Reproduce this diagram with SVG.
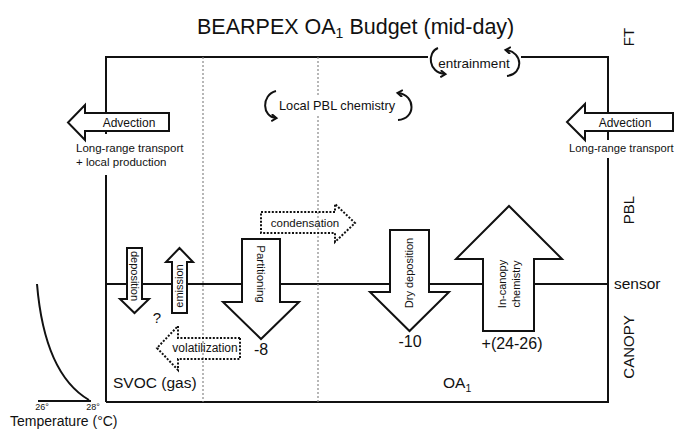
<svg xmlns="http://www.w3.org/2000/svg" width="675" height="430" viewBox="0 0 675 430">
<style>
text{font-family:"Liberation Sans",Arial,sans-serif;fill:#111}
.ln{stroke:#111;stroke-width:2;fill:none}
.dot{stroke:#888;stroke-width:1.2;stroke-dasharray:2 2;fill:none}
.arr{stroke:#111;stroke-width:2;fill:#fff;stroke-linejoin:miter}
.darr{stroke:#111;stroke-width:2;fill:none;stroke-dasharray:2 1.6}
.circ{stroke:#111;stroke-width:2;fill:none}
.m{text-anchor:middle}
</style>
<defs>
<marker id="head" markerWidth="8" markerHeight="8" refX="5" refY="4" orient="auto" markerUnits="userSpaceOnUse">
<path d="M0.5,0.5 L5.5,4 L0.5,7.5" fill="none" stroke="#111" stroke-width="2"/>
</marker>
</defs>
<rect width="675" height="430" fill="#fff"/>
<text x="197" y="34" font-size="21.5">BEARPEX OA<tspan font-size="14" dy="4">1</tspan><tspan dy="-4"> Budget (mid-day)</tspan></text>
<g id="frame">
<path class="ln" d="M106,402 V175 M106,134 V57 H428 M521,57 H608 V140 M608,158 V402 H106"/>
<path class="ln" d="M106,284 H608"/>
<path class="dot" d="M203,57 V402 M318,57 V95 M318,116 V402"/>
</g>
<g id="labels">
<text transform="translate(634,37) rotate(-90)" font-size="15" class="m">FT</text>
<text transform="translate(634,210) rotate(-90)" font-size="15" class="m">PBL</text>
<text transform="translate(634,347) rotate(-90)" font-size="15" class="m">CANOPY</text>
<text x="614" y="289" font-size="15.5">sensor</text>
</g>
<g id="entrainment">
<path class="circ" d="M438,48 C427,52 428,73 445,74" marker-end="url(#head)"/>
<path class="circ" d="M507,76 C524,74 523,52 506,50" marker-end="url(#head)"/>
<text x="474" y="67.5" font-size="13.5" class="m">entrainment</text>
</g>
<g id="local-pbl-chemistry">
<path class="circ" d="M276,91 C261,95 262,117 276,118" marker-end="url(#head)"/>
<path class="circ" d="M398,120 C416,119 416,95 398,93" marker-end="url(#head)"/>
<text x="337" y="109.5" font-size="12.8" class="m">Local PBL chemistry</text>
</g>
<g id="advection-left">
<polygon class="arr" points="169,113 85,113 85,105 68,122.5 85,140 85,131 169,131"/>
<text x="129" y="126.5" font-size="12" class="m">Advection</text>
<text x="76" y="152" font-size="11.5">Long-range transport</text>
<text x="76" y="166" font-size="11.5">+ local production</text>
</g>
<g id="advection-right">
<polygon class="arr" points="673,113 585,113 585,104 567,122 585,140 585,131 673,131"/>
<text x="625" y="126.5" font-size="12" class="m">Advection</text>
<text x="569" y="152" font-size="11.2">Long-range transport</text>
</g>
<g id="deposition">
<polygon class="arr" points="127,248 142,248 142,299 149,299 134.5,313 120,299 127,299"/>
<text transform="translate(130.8,276) rotate(90)" font-size="11" class="m">deposition</text>
</g>
<g id="emission">
<polygon class="arr" points="172,313 187,313 187,262 193,262 179.5,248 166,262 172,262"/>
<text transform="translate(183.4,286) rotate(-90)" font-size="11" class="m">emission</text>
</g>
<text x="157" y="323" font-size="15" class="m">?</text>
<g id="partitioning">
<polygon class="arr" points="242,239 280,239 280,302 299,302 261,339 223,302 242,302"/>
<text transform="translate(257,274) rotate(90)" font-size="11.5" class="m">Partitioning</text>
<text x="261" y="355" font-size="16" class="m">-8</text>
</g>
<g id="condensation">
<polygon class="darr" points="261,212 335,212 335,204 355,223 335,242 335,233 261,233"/>
<text x="305" y="227" font-size="11.5" class="m">condensation</text>
</g>
<g id="volatilization">
<polygon class="darr" points="240,338 178,338 178,326 157,348 178,370 178,359 240,359"/>
<text x="205" y="352" font-size="12" class="m">volatilization</text>
</g>
<g id="dry-deposition">
<polygon class="arr" points="390,230 429,230 429,292 449,292 409.5,331 370,292 390,292"/>
<text transform="translate(413,273) rotate(-90)" font-size="11" class="m">Dry deposition</text>
<text x="410" y="347" font-size="16" class="m">-10</text>
</g>
<g id="in-canopy-chemistry">
<polygon class="arr" points="483,331 534,331 534,259 562,259 509,206 456,259 483,259"/>
<text transform="translate(506,284) rotate(-90)" font-size="11" class="m">In-canopy</text>
<text transform="translate(520,284) rotate(-90)" font-size="11" class="m">chemistry</text>
<text x="512" y="349" font-size="16" class="m">+(24-26)</text>
</g>
<text x="113" y="388" font-size="15.5">SVOC (gas)</text>
<text x="443" y="388" font-size="15.5">OA<tspan font-size="10.5" dy="4">1</tspan></text>
<g id="temperature-inset">
<path class="ln" d="M37,284 C42,344 60,383 89,400"/>
<path class="ln" d="M38,401 H91"/>
<text x="42" y="410" font-size="9" class="m">26°</text>
<text x="93" y="410" font-size="9" class="m">28°</text>
<text x="10" y="426" font-size="14">Temperature (°C)</text>
</g>
</svg>
